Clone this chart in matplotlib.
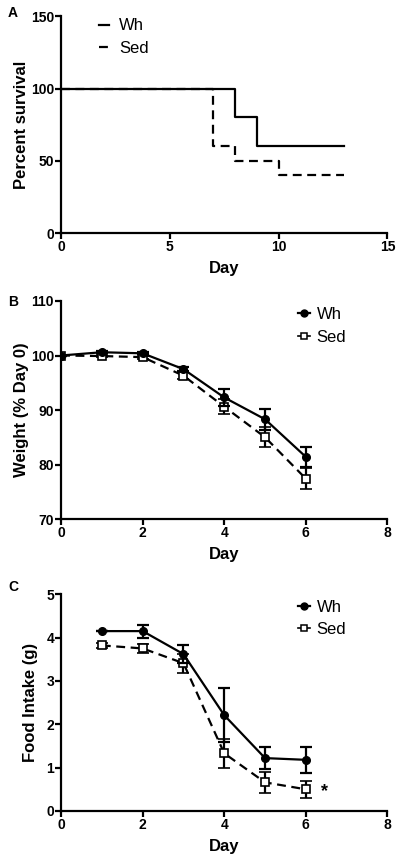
import numpy as np
import matplotlib.pyplot as plt

plt.rcParams['font.family'] = ['Liberation Sans', 'DejaVu Sans']

# A: survival
surv_days_wh = [0, 8, 9, 13]
surv_wh = [100, 80, 60, 60]
surv_days_sed = [0, 7, 8, 10, 13]
surv_sed = [100, 60, 50, 40, 40]

# B: weight
w_days = [0, 1, 2, 3, 4, 5, 6]
w_wh = [100, 100.6, 100.4, 97.5, 92.3, 88.3, 81.4]
w_wh_err = [0, 0.2, 0.2, 0.3, 1.5, 1.9, 1.9]
w_sed = [100, 99.9, 99.7, 96.3, 90.6, 85.0, 77.4]
w_sed_err = [0, 0.2, 0.3, 0.6, 1.4, 1.8, 1.9]

# C: food intake
f_days = [1, 2, 3, 4, 5, 6]
f_wh = [4.15, 4.15, 3.62, 2.21, 1.22, 1.18]
f_wh_err = [0.0, 0.15, 0.2, 0.62, 0.26, 0.3]
f_sed = [3.82, 3.75, 3.41, 1.33, 0.66, 0.5]
f_sed_err = [0.05, 0.1, 0.22, 0.33, 0.24, 0.2]

fig = plt.figure(figsize=(3.99, 8.6), dpi=100)
L, W = 0.153, 0.818
axA = fig.add_axes([L, 0.729, W, 0.252])
axB = fig.add_axes([L, 0.3965, W, 0.2535])
axC = fig.add_axes([L, 0.057, W, 0.252])

lw = 1.6
lab_fs = 12


def style(ax):
    for s in ['top', 'right']:
        ax.spines[s].set_visible(False)
    for s in ['left', 'bottom']:
        ax.spines[s].set_linewidth(lw)
    ax.tick_params(direction='out', width=lw, length=4, pad=1)
    for lab in ax.get_xticklabels() + ax.get_yticklabels():
        lab.set_fontweight('bold')
        lab.set_fontsize(10)
    ax.set_xlabel('Day', fontsize=lab_fs, fontweight='bold', labelpad=5)


# panel A
axA.step(surv_days_wh, surv_wh, where='post', color='black', lw=lw, label='Wh')
axA.step(surv_days_sed, surv_sed, where='post', color='black', lw=lw,
         ls=(0, (4, 2.5)), label='Sed')
axA.set_xlim(0, 15)
axA.set_ylim(0, 150)
axA.set_xticks([0, 5, 10, 15])
axA.set_yticks([0, 50, 100, 150])
axA.set_ylabel('Percent survival', fontsize=lab_fs, fontweight='bold', labelpad=1)
style(axA)
axA.legend(loc='upper left', bbox_to_anchor=(0.07, 1.06), frameon=False,
           handlelength=0.6, handletextpad=0.6, fontsize=12, labelspacing=0.45)

# panel B
axB.errorbar(w_days, w_wh, yerr=w_wh_err, color='black', lw=lw, marker='o',
             ms=5.5, capsize=4, capthick=lw, elinewidth=lw, label='Wh', zorder=3)
axB.errorbar(w_days, w_sed, yerr=w_sed_err, color='black', lw=lw, ls=(0, (4, 2.5)),
             marker='s', ms=5.5, mfc='white', mew=1.2, capsize=4, capthick=lw,
             elinewidth=lw, label='Sed', zorder=2)
axB.set_xlim(0, 8)
axB.set_ylim(70, 110)
axB.set_xticks([0, 2, 4, 6, 8])
axB.set_yticks([70, 80, 90, 100, 110])
axB.set_ylabel('Weight (% Day 0)', fontsize=lab_fs, fontweight='bold', labelpad=1)
style(axB)
leg_handles = [
    plt.Line2D([], [], color='black', lw=lw, marker='o', ms=5),
    plt.Line2D([], [], color='black', lw=1.2, marker='s', ms=5, mfc='white', mew=1.1),
]
axB.legend(leg_handles, ['Wh', 'Sed'], loc='upper right', bbox_to_anchor=(0.92, 1.04),
           frameon=False, handlelength=0.7, handletextpad=0.4, fontsize=12,
           labelspacing=0.45)

# panel C
axC.errorbar(f_days, f_wh, yerr=f_wh_err, color='black', lw=lw, marker='o',
             ms=5.5, capsize=4, capthick=lw, elinewidth=lw, label='Wh', zorder=3)
axC.errorbar(f_days, f_sed, yerr=f_sed_err, color='black', lw=lw, ls=(0, (4, 2.5)),
             marker='s', ms=5.5, mfc='white', mew=1.2, capsize=4, capthick=lw,
             elinewidth=lw, label='Sed', zorder=2)
axC.set_xlim(0, 8)
axC.set_ylim(0, 5)
axC.set_xticks([0, 2, 4, 6, 8])
axC.set_yticks([0, 1, 2, 3, 4, 5])
axC.set_ylabel('Food Intake (g)', fontsize=lab_fs, fontweight='bold', labelpad=6)
style(axC)
axC.legend(leg_handles, ['Wh', 'Sed'], loc='upper right', bbox_to_anchor=(0.92, 1.045),
           frameon=False, handlelength=0.7, handletextpad=0.4, fontsize=12,
           labelspacing=0.45)
axC.text(6.45, f_sed[-1] - 0.05, '*', fontsize=13, fontweight='bold',
         ha='center', va='center')

for txt, y in [('A', 0.993), ('B', 0.657), ('C', 0.326)]:
    fig.text(0.02, y, txt, fontsize=10, fontweight='bold', va='top')

fig.savefig('out.png', dpi=100)
